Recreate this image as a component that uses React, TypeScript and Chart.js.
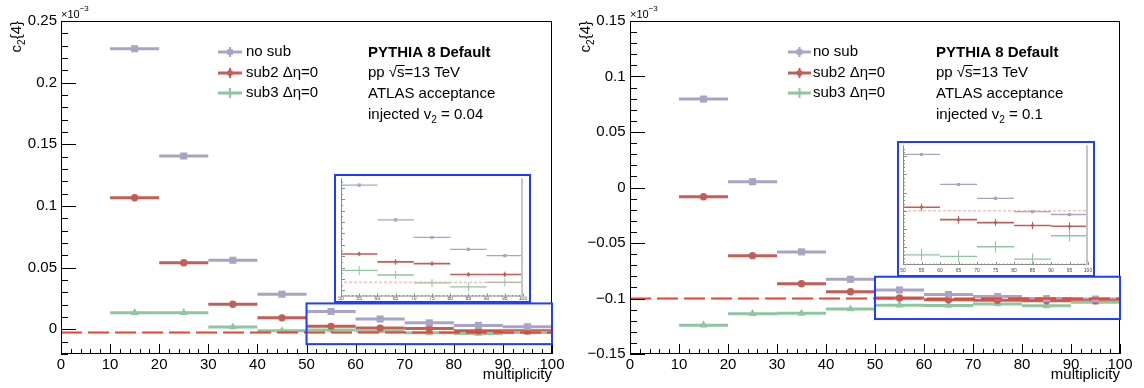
import React, { useEffect, useRef } from "react";
import { Chart, registerables } from "chart.js";

Chart.register(...registerables);

const FONT = "'Liberation Sans', Arial, Helvetica, sans-serif";

/* ---------------- data (c2{4} in units of 1e-3) ---------------- */
const multiplicityBins = [15, 25, 35, 45, 55, 65, 75, 85, 95];
const binHalfWidth = 5;

const xTickValues = [0, 10, 20, 30, 40, 50, 60, 70, 80, 90, 100];
const insetXTickValues = [50, 55, 60, 65, 70, 75, 80, 85, 90, 95, 100];

const seriesNames = ["no sub", "sub2 Δη=0", "sub3 Δη=0"];

// injected v2 = 0.04
const v004NoSub = [0.2275, 0.1405, 0.056, 0.0285, 0.0145, 0.0084, 0.0053, 0.0032, 0.0021];
const v004Sub2 = [0.1067, 0.054, 0.0203, 0.0093, 0.0024, 0.001, 0.0007, -0.0012, -0.0012];
const v004Sub3 = [0.0135, 0.0135, 0.0019, -0.0012, -0.0005, -0.0013, -0.0027, -0.0034, -0.0026];
const v004NoSubErr = [0.0002, 0.0002, 0.0002, 0.0002, 0.0002, 0.0002, 0.0002, 0.0002, 0.0002];
const v004Sub2Err = [0.0004, 0.0004, 0.0004, 0.0004, 0.0004, 0.0005, 0.0004, 0.0004, 0.0005];
const v004Sub3Err = [0.0008, 0.0008, 0.0007, 0.0007, 0.0008, 0.0007, 0.0007, 0.0007, 0.0007];
const v004Expected = -0.00256; // -(0.04)^4
const v004YTicks = [0, 0.05, 0.1, 0.15, 0.2, 0.25];
const v004YTickLabels = ["0", "0.05", "0.1", "0.15", "0.2", "0.25"];

// injected v2 = 0.1
const v01NoSub = [0.0797, 0.0052, -0.058, -0.0827, -0.0923, -0.0964, -0.0983, -0.1001, -0.1005];
const v01Sub2 = [-0.0083, -0.0614, -0.0867, -0.0939, -0.0995, -0.1012, -0.1016, -0.102, -0.1021];
const v01Sub3 = [-0.124, -0.1137, -0.1134, -0.1095, -0.106, -0.1062, -0.1049, -0.1066, -0.1034];
const v01NoSubErr = [0.0002, 0.0002, 0.0002, 0.0002, 0.0002, 0.0002, 0.0002, 0.0002, 0.0002];
const v01Sub2Err = [0.0005, 0.0005, 0.0005, 0.0005, 0.0005, 0.0005, 0.0005, 0.0005, 0.0005];
const v01Sub3Err = [0.0008, 0.0008, 0.0008, 0.0008, 0.0008, 0.0008, 0.0008, 0.0008, 0.0008];
const v01Expected = -0.1; // -(0.1)^4
const v01YTicks = [-0.15, -0.1, -0.05, 0, 0.05, 0.1, 0.15];
const v01YTickLabels = ["\u22120.15", "\u22120.1", "\u22120.05", "0", "0.05", "0.1", "0.15"];

/* ---------------- styles & layout ---------------- */
const COLORS = {
  noSub: "#a9a4c6",
  sub2: "#c25e58",
  sub3: "#8ec6a0",
  expected: "#e8432f",
  expectedInset: "#f3a39b",
  box: "#1f3dff",
};
const MARKERS = ["rect", "circle", "triangle"];
const MAIN_RADII = [5, 3.7, 4.6];
const INSET_RADII = [2.2, 1.6, 1.1];
const LEGEND_RADII = [4, 3, 3.2];

const PANELS = [
  {
    id: "v004",
    offsetX: 0,
    values: [v004NoSub, v004Sub2, v004Sub3],
    errors: [v004NoSubErr, v004Sub2Err, v004Sub3Err],
    expected: v004Expected,
    yTicks: v004YTicks,
    yTickLabels: v004YTickLabels,
    yMin: -0.02,
    yMax: 0.25,
    yAxisWidth: 61,
    padRight: 20,
    yLabelPad: 4,
    zoomBox: { x0: 50, x1: 100, y0: -0.012, y1: 0.021 },
    v2Text: " = 0.04",
    legendX: 218,
    legendLen: 24,
    legendTextX: 246,
    noteX: 368,
    inset: {
      left: 334, top: 174, width: 197, height: 129,
      yAxisWidth: 5, padRight: 6, padTop: 1, xAxisHeight: 4.5, labelPad: -1,
      yMin: -0.00508, yMax: 0.01572, yMinor: 0.001, yMajor: 0.002,
    },
  },
  {
    id: "v01",
    offsetX: 572,
    values: [v01NoSub, v01Sub2, v01Sub3],
    errors: [v01NoSubErr, v01Sub2Err, v01Sub3Err],
    expected: v01Expected,
    yTicks: v01YTicks,
    yTickLabels: v01YTickLabels,
    yMin: -0.15,
    yMax: 0.15,
    yAxisWidth: 58,
    padRight: 24,
    yLabelPad: 4.5,
    zoomBox: { x0: 50, x1: 100, y0: -0.1185, y1: -0.0804 },
    v2Text: " = 0.1",
    legendX: 216,
    legendLen: 23,
    legendTextX: 241,
    noteX: 364,
    inset: {
      left: 897, top: 141, width: 198, height: 136,
      yAxisWidth: 4, padRight: 5, padTop: 1, xAxisHeight: 10, labelPad: 3,
      yMin: -0.10739, yMax: -0.09104, yMinor: 0.0005, yMajor: 0.0025,
    },
  },
];

const LEGEND_Y = [52, 73, 93];
const NOTE_Y = [53, 73, 94, 115];

/* ---------------- helpers ---------------- */
type Part = { text: string; size: number; dy?: number; bold?: boolean };
const fontStr = (pt: Part) => `${pt.bold ? "bold " : ""}${pt.size}px ${FONT}`;

function drawParts(ctx: CanvasRenderingContext2D, parts: Part[], x: number, y: number, align: "left" | "right" = "left") {
  const widths = parts.map((pt) => {
    ctx.font = fontStr(pt);
    return ctx.measureText(pt.text).width;
  });
  const total = widths.reduce((a, b) => a + b, 0);
  let cx = align === "right" ? x - total : x;
  parts.forEach((pt, i) => {
    ctx.font = fontStr(pt);
    ctx.fillText(pt.text, cx, y + (pt.dy || 0));
    cx += widths[i];
  });
  return total;
}

function drawMarker(ctx: CanvasRenderingContext2D, style: string, x: number, y: number, r: number, color: string) {
  ctx.fillStyle = color;
  ctx.beginPath();
  if (style === "rect") {
    const s = r * Math.SQRT1_2;
    ctx.rect(x - s, y - s, 2 * s, 2 * s);
  } else if (style === "circle") {
    ctx.arc(x, y, r, 0, Math.PI * 2);
  } else {
    ctx.moveTo(x, y - r);
    ctx.lineTo(x + r * 0.866, y + r / 2);
    ctx.lineTo(x - r * 0.866, y + r / 2);
    ctx.closePath();
  }
  ctx.fill();
}

function line(ctx: CanvasRenderingContext2D, x0: number, y0: number, x1: number, y1: number) {
  ctx.beginPath();
  ctx.moveTo(x0, y0);
  ctx.lineTo(x1, y1);
  ctx.stroke();
}

const errorBarsPlugin = {
  id: "errorBars",
  beforeDatasetsDraw(chart: any) {
    const { ctx, chartArea: a, scales } = chart;
    const xs = scales.x;
    const ys = scales.y;
    ctx.save();
    ctx.beginPath();
    ctx.rect(a.left, a.top, a.right - a.left, a.bottom - a.top);
    ctx.clip();
    ctx.lineCap = "butt";
    chart.data.datasets.forEach((ds: any) => {
      if (!ds.errY) return;
      ctx.strokeStyle = ds.barColor;
      ds.data.forEach((pt: any, i: number) => {
        const px = xs.getPixelForValue(pt.x);
        const py = ys.getPixelForValue(pt.y);
        ctx.lineWidth = ds.barWidth;
        line(ctx, xs.getPixelForValue(pt.x - ds.errX), py, xs.getPixelForValue(pt.x + ds.errX), py);
        ctx.lineWidth = ds.vBarWidth;
        line(ctx, px, ys.getPixelForValue(pt.y - ds.errY[i]), px, ys.getPixelForValue(pt.y + ds.errY[i]));
      });
    });
    ctx.restore();
  },
};

function seriesDatasets(p: any, main: boolean) {
  const colors = [COLORS.noSub, COLORS.sub2, COLORS.sub3];
  const radii = main ? MAIN_RADII : INSET_RADII;
  return p.values.map((vals: number[], k: number) => ({
    label: seriesNames[k],
    data: multiplicityBins.map((x, i) => ({ x, y: vals[i] })),
    errY: p.errors[k],
    errX: binHalfWidth,
    barColor: colors[k],
    barWidth: main ? 3 : k === 1 ? 1.6 : 1.3,
    vBarWidth: main ? 2 : 1,
    showLine: false,
    pointStyle: MARKERS[k],
    pointRadius: radii[k],
    pointHoverRadius: radii[k],
    pointBackgroundColor: colors[k],
    pointBorderColor: colors[k],
    pointBorderWidth: 0,
  }));
}

function expectedDataset(y: number, main: boolean) {
  return {
    label: "injected",
    data: [{ x: 0, y }, { x: 100, y }],
    showLine: true,
    borderColor: main ? COLORS.expected : COLORS.expectedInset,
    borderWidth: main ? 2 : 1,
    borderDash: main ? [21, 6] : [3, 2],
    pointRadius: 0,
    pointHoverRadius: 0,
    fill: false,
  };
}

function mainDecorPlugin(p: any) {
  return {
    id: "mainDecor_" + p.id,
    afterDraw(chart: any) {
      const { ctx, chartArea: a, scales } = chart;
      const xs = scales.x;
      const ys = scales.y;
      ctx.save();
      // frame
      ctx.strokeStyle = "#000";
      ctx.lineWidth = 1;
      ctx.strokeRect(a.left + 0.5, a.top + 0.5, a.right - a.left - 1, a.bottom - a.top - 1);
      // y ticks (inward)
      const minor = 0.01;
      const major = 0.05;
      for (let n = Math.ceil(p.yMin / minor - 1e-6); n <= Math.floor(p.yMax / minor + 1e-6); n++) {
        const v = n * minor;
        const isMajor = Math.abs(v / major - Math.round(v / major)) < 1e-6;
        const py = Math.round(ys.getPixelForValue(v)) + 0.5;
        line(ctx, a.left, py, a.left + (isMajor ? 15 : 7), py);
      }
      // x ticks (inward)
      for (let v = 0; v <= 100; v += 2) {
        const px = Math.round(xs.getPixelForValue(v)) + 0.5;
        line(ctx, px, a.bottom, px, a.bottom - (v % 10 === 0 ? 10 : 5));
      }
      // zoom box
      ctx.strokeStyle = COLORS.box;
      ctx.lineWidth = 2;
      const bx0 = xs.getPixelForValue(p.zoomBox.x0);
      const bx1 = xs.getPixelForValue(p.zoomBox.x1);
      const by0 = ys.getPixelForValue(p.zoomBox.y0);
      const by1 = ys.getPixelForValue(p.zoomBox.y1);
      ctx.strokeRect(bx0, by1, bx1 - bx0, by0 - by1);

      // y title and exponent
      ctx.fillStyle = "#000";
      ctx.textBaseline = "alphabetic";
      ctx.save();
      ctx.translate(a.left - 40, a.top);
      ctx.rotate(-Math.PI / 2);
      drawParts(ctx, [
        { text: "c", size: 15 },
        { text: "2", size: 10, dy: 4 },
        { text: "{4}", size: 15 },
      ], 0, 0, "right");
      ctx.restore();
      drawParts(ctx, [
        { text: "\u00d710", size: 11 },
        { text: "\u22123", size: 8, dy: -7 },
      ], a.left, 18);

      // legend
      const colors = [COLORS.noSub, COLORS.sub2, COLORS.sub3];
      ctx.textBaseline = "middle";
      seriesNames.forEach((name, k) => {
        const cy = LEGEND_Y[k];
        const cx = p.legendX + p.legendLen / 2;
        ctx.strokeStyle = colors[k];
        ctx.lineWidth = 3;
        line(ctx, p.legendX, cy, p.legendX + p.legendLen, cy);
        ctx.lineWidth = 2;
        line(ctx, cx, cy - 5, cx, cy + 5);
        drawMarker(ctx, MARKERS[k], cx, cy, LEGEND_RADII[k], colors[k]);
        ctx.fillStyle = "#000";
        drawParts(ctx, [{ text: name, size: 15 }], p.legendTextX, cy);
      });

      // notes
      ctx.fillStyle = "#000";
      drawParts(ctx, [{ text: "PYTHIA 8 Default", size: 15, bold: true }], p.noteX, NOTE_Y[0]);
      ctx.font = fontStr({ text: "", size: 15 });
      const wPre = ctx.measureText("pp \u221a").width;
      const wS = ctx.measureText("s").width;
      drawParts(ctx, [{ text: "pp \u221as=13 TeV", size: 15 }], p.noteX, NOTE_Y[1]);
      ctx.strokeStyle = "#000";
      ctx.lineWidth = 1;
      line(ctx, p.noteX + wPre - 1, NOTE_Y[1] - 7.5, p.noteX + wPre + wS, NOTE_Y[1] - 7.5);
      drawParts(ctx, [{ text: "ATLAS acceptance", size: 15 }], p.noteX, NOTE_Y[2]);
      drawParts(ctx, [
        { text: "injected v", size: 15 },
        { text: "2", size: 10, dy: 5 },
        { text: p.v2Text, size: 15 },
      ], p.noteX, NOTE_Y[3]);
      ctx.restore();
    },
  };
}

function insetDecorPlugin(p: any) {
  return {
    id: "insetDecor_" + p.id,
    afterDraw(chart: any) {
      const { ctx, chartArea: a, scales } = chart;
      const xs = scales.x;
      const ys = scales.y;
      const ins = p.inset;
      ctx.save();
      ctx.strokeStyle = "#8c8c8c";
      ctx.lineWidth = 1;
      line(ctx, a.left + 0.5, a.top, a.left + 0.5, a.bottom);
      line(ctx, a.left, a.bottom - 0.5, a.right, a.bottom - 0.5);
      for (let n = Math.ceil(ins.yMin / ins.yMinor - 1e-6); n <= Math.floor(ins.yMax / ins.yMinor + 1e-6); n++) {
        const v = n * ins.yMinor;
        const isMajor = Math.abs(v / ins.yMajor - Math.round(v / ins.yMajor)) < 1e-6;
        const py = Math.round(ys.getPixelForValue(v)) + 0.5;
        line(ctx, a.left, py, a.left + (isMajor ? 4 : 2), py);
      }
      for (let v = 50; v <= 100; v += 1) {
        const px = Math.round(xs.getPixelForValue(v)) + 0.5;
        line(ctx, px, a.bottom, px, a.bottom - (v % 5 === 0 ? 3 : 1.5));
      }
      ctx.strokeStyle = "#c6c6c6";
      ctx.lineWidth = 2;
      line(ctx, a.right - 1, a.top, a.right - 1, a.bottom);
      ctx.restore();
    },
  };
}

function yLabel(p: any, v: number) {
  const i = p.yTicks.findIndex((t: number) => Math.abs(t - v) < 1e-9);
  return i >= 0 ? p.yTickLabels[i] : "";
}

function mainConfig(p: any): any {
  return {
    type: "scatter",
    data: { datasets: [expectedDataset(p.expected, true), ...seriesDatasets(p, true)] },
    options: {
      animation: false,
      responsive: false,
      maintainAspectRatio: false,
      events: [],
      layout: { padding: { left: 0, top: 21, right: p.padRight, bottom: 0 } },
      plugins: { legend: { display: false }, tooltip: { enabled: false } },
      scales: {
        x: {
          type: "linear",
          position: "bottom",
          min: 0,
          max: 100,
          bounds: "data",
          afterBuildTicks: (s: any) => {
            s.ticks = xTickValues.map((v) => ({ value: v }));
          },
          afterFit: (s: any) => {
            s.height = 34;
            s.paddingLeft = 0;
            s.paddingRight = 0;
          },
          ticks: {
            color: "#000",
            font: { family: FONT, size: 15 },
            padding: 1.5,
            autoSkip: false,
            maxRotation: 0,
            minRotation: 0,
            callback: (v: any) => String(v),
          },
          grid: { display: false, drawTicks: false },
          border: { display: false },
          title: {
            display: true,
            text: "multiplicity",
            align: "end",
            color: "#000",
            font: { family: FONT, size: 15 },
            padding: { top: 0, bottom: 4 },
          },
        },
        y: {
          type: "linear",
          position: "left",
          min: p.yMin,
          max: p.yMax,
          bounds: "data",
          afterBuildTicks: (s: any) => {
            s.ticks = p.yTicks.map((v: number) => ({ value: v }));
          },
          afterFit: (s: any) => {
            s.width = p.yAxisWidth;
            s.paddingTop = 0;
            s.paddingBottom = 0;
          },
          ticks: {
            color: "#000",
            font: { family: FONT, size: 15 },
            padding: p.yLabelPad,
            autoSkip: false,
            callback: (v: any) => yLabel(p, Number(v)),
          },
          grid: { display: false, drawTicks: false },
          border: { display: false },
        },
      },
    },
    plugins: [errorBarsPlugin, mainDecorPlugin(p)],
  };
}

function insetConfig(p: any): any {
  const ins = p.inset;
  return {
    type: "scatter",
    data: { datasets: [expectedDataset(p.expected, false), ...seriesDatasets(p, false)] },
    options: {
      animation: false,
      responsive: false,
      maintainAspectRatio: false,
      events: [],
      layout: { padding: { left: 0, top: ins.padTop, right: ins.padRight, bottom: 0 } },
      plugins: { legend: { display: false }, tooltip: { enabled: false } },
      scales: {
        x: {
          type: "linear",
          position: "bottom",
          min: 50,
          max: 100,
          bounds: "data",
          afterBuildTicks: (s: any) => {
            s.ticks = insetXTickValues.map((v) => ({ value: v }));
          },
          afterFit: (s: any) => {
            s.height = ins.xAxisHeight;
            s.paddingLeft = 0;
            s.paddingRight = 0;
          },
          ticks: {
            color: "#444",
            font: { family: FONT, size: 5 },
            padding: ins.labelPad,
            autoSkip: false,
            maxRotation: 0,
            minRotation: 0,
            callback: (v: any) => String(v),
          },
          grid: { display: false, drawTicks: false },
          border: { display: false },
        },
        y: {
          type: "linear",
          position: "left",
          min: ins.yMin,
          max: ins.yMax,
          bounds: "data",
          afterFit: (s: any) => {
            s.width = ins.yAxisWidth;
            s.paddingTop = 0;
            s.paddingBottom = 0;
          },
          ticks: { display: false },
          grid: { display: false, drawTicks: false },
          border: { display: false },
        },
      },
    },
    plugins: [errorBarsPlugin, insetDecorPlugin(p)],
  };
}

function MainChart({ p }: { p: any }) {
  const ref = useRef<HTMLCanvasElement>(null);
  useEffect(() => {
    const chart = new Chart(ref.current as HTMLCanvasElement, mainConfig(p));
    return () => chart.destroy();
  }, [p]);
  return (
    <canvas
      ref={ref}
      width={572}
      height={388}
      style={{ position: "absolute", left: p.offsetX, top: 0, width: 572, height: 388 }}
    />
  );
}

function InsetChart({ p }: { p: any }) {
  const ref = useRef<HTMLCanvasElement>(null);
  const ins = p.inset;
  const cw = ins.width - 4;
  const chh = ins.height - 4;
  useEffect(() => {
    const chart = new Chart(ref.current as HTMLCanvasElement, insetConfig(p));
    return () => chart.destroy();
  }, [p]);
  return (
    <div
      style={{
        position: "absolute",
        left: ins.left,
        top: ins.top,
        width: ins.width,
        height: ins.height,
        boxSizing: "border-box",
        border: `2px solid ${COLORS.box}`,
        background: "#fff",
      }}
    >
      <canvas ref={ref} width={cw} height={chh} style={{ display: "block", width: cw, height: chh }} />
    </div>
  );
}

export default function App() {
  return (
    <div
      style={{
        position: "absolute",
        left: 0,
        top: 0,
        width: 1144,
        height: 388,
        background: "#fff",
        overflow: "hidden",
      }}
    >
      {PANELS.map((p) => (
        <React.Fragment key={p.id}>
          <MainChart p={p} />
          <InsetChart p={p} />
        </React.Fragment>
      ))}
    </div>
  );
}
